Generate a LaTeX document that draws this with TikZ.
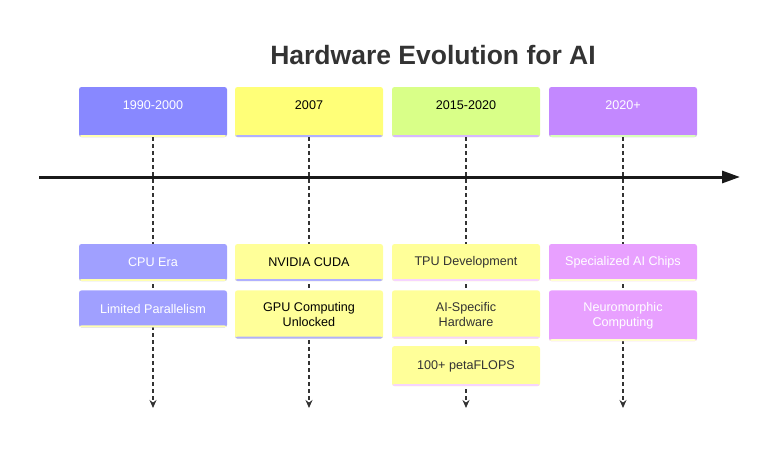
\documentclass[tikz,border=0pt]{standalone}
\usepackage{fontspec}
\setmainfont{Liberation Sans}
\usetikzlibrary{positioning,arrows.meta}

\definecolor{titlegray}{HTML}{333333}
\definecolor{pone}{HTML}{8888FF}
\definecolor{ptwo}{HTML}{FFFF78}
\definecolor{pthree}{HTML}{D9FF88}
\definecolor{pfour}{HTML}{C388FF}
\definecolor{eone}{HTML}{A0A0FF}
\definecolor{etwo}{HTML}{FFFF99}
\definecolor{ethree}{HTML}{FFFF99}
\definecolor{efour}{HTML}{E8A0FF}
\definecolor{sone}{HTML}{FFFFB0}
\definecolor{stwo}{HTML}{B0B0FF}
\definecolor{sthree}{HTML}{D6B8FF}
\definecolor{sfour}{HTML}{D8FFB8}
\definecolor{sevthree}{HTML}{F6D4FF}
\definecolor{sevfour}{HTML}{FFFFD0}

\tikzset{
  box/.style={rounded corners=2.5pt, minimum width=148pt, align=center,
    font=\fontsize{12.6}{15}\selectfont},
  period/.style={box, minimum height=50pt, text height=9pt, text depth=14pt},
  event/.style={box, minimum height=37pt, inner ysep=12pt},
  strip/.style={path picture={\fill[#1] ([yshift=2pt]path picture bounding box.south west)
    rectangle (path picture bounding box.south east);}},
  guide/.style={dashed, dash pattern=on 3.5pt off 3.5pt, line width=1.2pt, titlegray,
    -{Stealth[length=8pt,width=7pt]}},
}

\begin{document}
\begin{tikzpicture}[x=1pt,y=-1pt]
	\useasboundingbox (0,0) rectangle (784,450);
	\node[font=\fontsize{26.5}{30}\selectfont\bfseries, text=titlegray] (title) at (433,55) {Hardware Evolution for AI};
	%%%%%%%%%%%%%%%%%%%%%%%%%%%%%%%%
	\node[period, fill=pone, text=white, strip=sone] (p1) at (153,112) {1990-2000};
	\node[period, fill=ptwo, strip=stwo] (p2) at (309,112) {2007};
	\node[period, fill=pthree, strip=sthree] (p3) at (466,112) {2015-2020};
	\node[period, fill=pfour, text=white, strip=sfour] (p4) at (623,112) {2020+};
	%%%%%%%%%%%%%%%%%%%%%%%%%%%%%%%%
	\coordinate (start) at (39,177);
	\coordinate (stop) at (740,177);
	\draw[line width=3pt, black!90, -{Triangle[length=18pt,width=12pt]}] (start)--(stop);
	%%%%%%%%%%%%%%%%%%%%%%%%%%%%%%%%
	\coordinate (end1) at (153,408);
	\coordinate (end2) at (309,408);
	\coordinate (end3) at (466,408);
	\coordinate (end4) at (623,408);
	\draw[guide] (p1.south)--(end1);
	\draw[guide] (p2.south)--(end2);
	\draw[guide] (p3.south)--(end3);
	\draw[guide] (p4.south)--(end4);
	%%%%%%%%%%%%%%%%%%%%%%%%%%%%%%%%
	\node[event, fill=eone, text=white, strip=sone] (cpu) at (153,262.5) {CPU Era};
	\node[event, fill=eone, text=white, strip=sone, below=9pt of cpu] (limited) {Limited Parallelism};
	%%%%%%%%%%%%%%%%%%%%%%%%%%%%%%%%
	\node[event, fill=etwo, strip=stwo] (cuda) at (309,262.5) {NVIDIA CUDA};
	\node[event, fill=etwo, strip=stwo, below=9pt of cuda] (gpu) {GPU Computing\\Unlocked};
	%%%%%%%%%%%%%%%%%%%%%%%%%%%%%%%%
	\node[event, fill=ethree, text=titlegray, strip=sevthree] (tpu) at (466,262.5) {TPU Development};
	\node[event, fill=ethree, text=titlegray, strip=sevthree, below=9pt of tpu] (aispec) {AI-Specific\\Hardware};
	\node[event, fill=ethree, text=titlegray, strip=sevthree, below=7pt of aispec, minimum height=40pt] (peta) {100+ petaFLOPS};
	%%%%%%%%%%%%%%%%%%%%%%%%%%%%%%%%
	\node[event, fill=efour, text=white, strip=sevfour] (chips) at (623,262.5) {Specialized AI Chips};
	\node[event, fill=efour, text=white, strip=sevfour, below=9pt of chips] (neuro) {Neuromorphic\\Computing};
\end{tikzpicture}
\end{document}
